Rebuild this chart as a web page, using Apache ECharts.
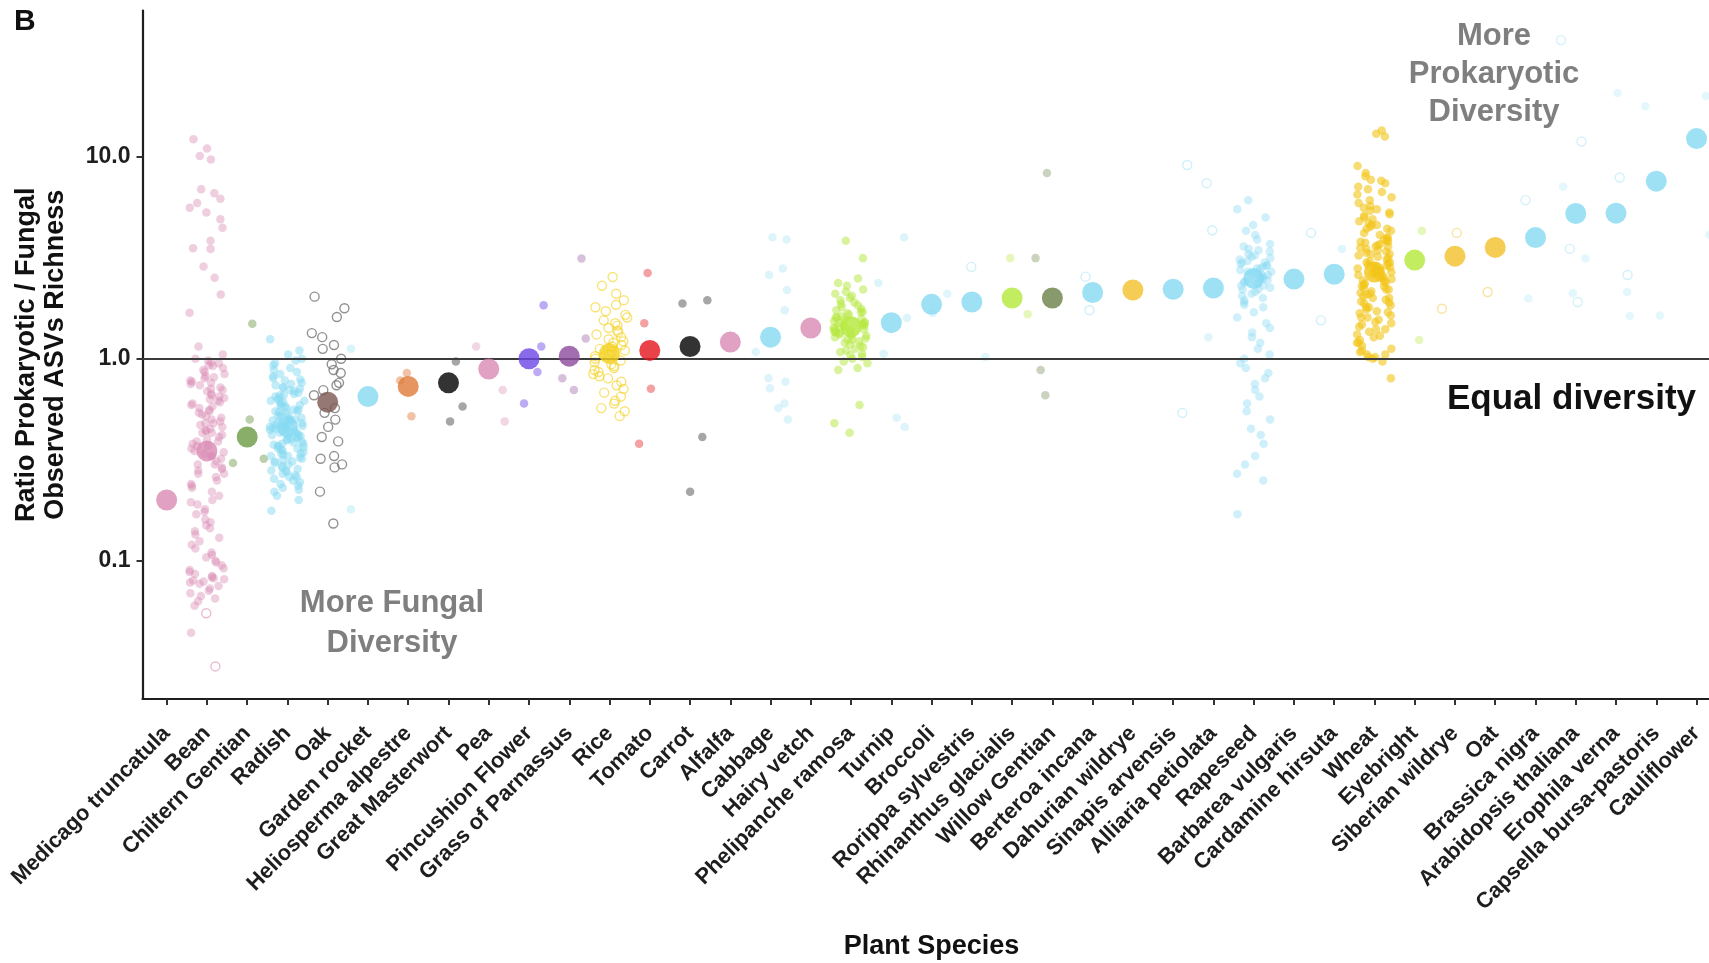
<!DOCTYPE html>
<html>
<head>
<meta charset="utf-8">
<script src="https://cdn.jsdelivr.net/npm/echarts@6/dist/echarts.min.js"></script>
<style>
  html, body { margin: 0; padding: 0; background: #ffffff; }
  #chart { width: 1709px; height: 963px; }
</style>
</head>
<body>
<div id="chart"></div>
<script>
// ---- Data -------------------------------------------------------------
const species = [
  'Medicago truncatula', 'Bean', 'Chiltern Gentian', 'Radish', 'Oak', 'Garden rocket',
  'Heliosperma alpestre', 'Great Masterwort', 'Pea', 'Pincushion Flower', 'Grass of Parnassus',
  'Rice', 'Tomato', 'Carrot', 'Alfalfa', 'Cabbage', 'Hairy vetch', 'Phelipanche ramosa',
  'Turnip', 'Broccoli', 'Rorippa sylvestris', 'Rhinanthus glacialis', 'Willow Gentian',
  'Berteroa incana', 'Dahurian wildrye', 'Sinapis arvensis', 'Alliaria petiolata', 'Rapeseed',
  'Barbarea vulgaris', 'Cardamine hirsuta', 'Wheat', 'Eyebright', 'Siberian wildrye', 'Oat',
  'Brassica nigra', 'Arabidopsis thaliana', 'Erophila verna', 'Capsella bursa-pastoris', 'Cauliflower'
];

// mean ratio per species (large markers)
const meanRatio = [
  0.20, 0.35, 0.41, 0.46, 0.61, 0.65, 0.73, 0.76, 0.89, 1.00, 1.03, 1.06, 1.10, 1.15,
  1.21, 1.28, 1.42, 1.44, 1.51, 1.86, 1.91, 2.00, 2.00, 2.13, 2.19, 2.21, 2.24, 2.50,
  2.48, 2.62, 2.69, 3.08, 3.22, 3.56, 3.98, 5.24, 5.26, 7.57, 12.3
];

// y axis ticks
const yTickValues = [0.1, 1, 10];
const yTickLabels = ['0.1', '1.0', '10.0'];

// individual samples (filled markers)
const beanFilled = [
  12.2, 11.0, 10.1, 9.7, 6.9, 6.6, 6.2, 5.9, 5.6, 5.3, 4.9, 4.45, 3.84, 3.53, 3.5, 2.86,
  2.52, 2.08, 1.69, 1.15, 1.05, 1.0, 0.98, 0.96, 0.93, 0.92,
  0.88, 0.86, 0.84, 0.82, 0.80, 0.78, 0.77, 0.75, 0.74, 0.72, 0.70, 0.69, 0.67, 0.66, 0.64,
  0.63, 0.61, 0.60, 0.58, 0.57, 0.56, 0.54, 0.53, 0.52, 0.50, 0.49, 0.48, 0.47, 0.46, 0.45,
  0.44, 0.43, 0.42, 0.41, 0.40, 0.39, 0.38, 0.37, 0.36, 0.35, 0.345, 0.34, 0.33, 0.32, 0.31,
  0.30, 0.29, 0.285, 0.28, 0.27, 0.26, 0.25, 0.24, 0.235, 0.23, 0.22, 0.21, 0.20, 0.195,
  0.19, 0.18, 0.175, 0.17, 0.16, 0.155, 0.15, 0.145, 0.14, 0.135, 0.13, 0.125, 0.12, 0.115,
  0.11, 0.107, 0.104, 0.10, 0.098, 0.095, 0.092, 0.09, 0.088, 0.086, 0.084, 0.082, 0.08,
  0.079, 0.077, 0.075, 0.073, 0.071, 0.069, 0.067, 0.065, 0.063, 0.06,
  0.62, 0.55, 0.51, 0.43, 0.39, 0.33, 0.27, 0.083, 0.081, 0.078, 0.044,
  0.95, 0.9, 0.81, 0.76, 0.71, 0.65, 0.59, 0.48, 0.44, 0.37, 0.3
];
const chilternFilled = [1.49, 0.50, 0.32, 0.305];
const radishFilled = [
  1.25, 1.10, 1.05, 1.00, 0.98, 0.95, 0.93, 0.90, 0.88, 0.86, 0.84, 0.82, 0.80, 0.79, 0.78,
  0.76, 0.75, 0.74, 0.72, 0.71, 0.70, 0.69, 0.68, 0.67, 0.66, 0.65, 0.64, 0.63, 0.62, 0.61,
  0.60, 0.59, 0.58, 0.57, 0.56, 0.55, 0.545, 0.54, 0.53, 0.52, 0.515, 0.51, 0.50, 0.495,
  0.49, 0.48, 0.475, 0.47, 0.465, 0.46, 0.455, 0.45, 0.445, 0.44, 0.43, 0.425, 0.42, 0.415,
  0.41, 0.405, 0.40, 0.395, 0.39, 0.385, 0.38, 0.375, 0.37, 0.365, 0.36, 0.355, 0.35, 0.345,
  0.34, 0.335, 0.33, 0.325, 0.32, 0.315, 0.31, 0.305, 0.30, 0.295, 0.29, 0.285, 0.28, 0.275,
  0.27, 0.265, 0.26, 0.255, 0.25, 0.245, 0.24, 0.235, 0.23, 0.225, 0.22, 0.21, 0.20, 0.177,
  0.62, 0.58, 0.55, 0.52, 0.50, 0.48, 0.46, 0.44, 0.42, 0.40, 0.38, 0.36, 0.34, 0.50, 0.45,
  0.72, 0.66, 0.6, 0.56, 0.47, 0.43, 0.41, 0.37, 0.33, 0.31, 0.28, 0.26
];
const gardenRocketFilled = [1.12, 0.18];
const heliospermaFilled = [0.85, 0.78, 0.52];
const masterwortFilled = [0.97, 0.58, 0.49];
const peaFilled = [1.15, 0.70, 0.49];
const pincushionFilled = [1.84, 1.15, 0.86, 0.60];
const parnassusFilled = [3.14, 1.26, 0.80, 0.70];
const tomatoFilled = [2.66, 1.50, 0.71, 0.38];
const carrotFilled = [1.95, 1.88, 0.41, 0.22];
const cabbageFilled = [4.0, 3.9, 2.8, 2.6, 2.19, 1.74, 1.08, 0.80, 0.77, 0.715, 0.60, 0.57, 0.50];
const phelipancheFilled = [
  3.84, 3.15, 2.5, 2.37, 2.3, 2.2, 2.15, 2.1, 2.05, 2.0, 1.95, 1.9, 1.87, 1.84, 1.8, 1.77,
  1.74, 1.71, 1.68, 1.65, 1.62, 1.6, 1.58, 1.56, 1.54, 1.52, 1.5, 1.48, 1.46, 1.44, 1.42,
  1.4, 1.38, 1.36, 1.34, 1.32, 1.3, 1.28, 1.26, 1.24, 1.22, 1.2, 1.18, 1.16, 1.14, 1.12,
  1.1, 1.08, 1.06, 1.04, 1.02, 1.0, 0.97, 0.95, 1.5, 1.45, 1.35, 1.25, 1.6, 1.7, 1.3, 1.4,
  0.90, 0.88, 0.59, 0.48, 0.43
];
const turnipFilled = [4.0, 2.37, 1.59, 1.06, 0.51, 0.46];
const broccoliFilled = [2.1, 1.68];
const rorippaFilled = [1.02];
const rhinanthusFilled = [3.15, 1.66];
const willowFilled = [8.3, 3.15, 0.88, 0.66];
const alliariaFilled = [1.28];
const rapeseedFilled = [
  6.1, 5.5, 5.0, 4.6, 4.3, 4.1, 3.9, 3.7,
  3.6, 3.5, 3.45, 3.4, 3.3, 3.25, 3.2, 3.15, 3.1, 3.05, 3.0, 2.95, 2.9, 2.85, 2.8, 2.75,
  2.7, 2.65, 2.6, 2.55, 2.5, 2.45, 2.4, 2.35, 2.3, 2.25, 2.2, 2.15, 2.1, 2.05, 2.0, 1.95,
  1.9, 1.85, 1.8, 2.9, 2.7, 2.5, 2.3, 2.6, 2.4, 3.0, 2.8, 2.2,
  1.7, 1.6, 1.5, 1.42, 1.35, 1.28, 1.2, 1.12, 1.05, 1.0,
  0.95, 0.90, 0.85, 0.80, 0.75, 0.70, 0.65, 0.60, 0.55, 0.50, 0.45, 0.42, 0.38, 0.33,
  0.30, 0.27, 0.25, 0.17
];
const cardamineFilled = [3.5];
const wheatFilled = [
  13.5, 13.0, 12.6, 9.0, 7.6,
  8.3, 8.0, 7.7, 7.4, 7.1, 6.9, 6.7, 6.5, 6.3, 6.1, 5.9, 5.7, 5.5, 5.4, 5.2, 5.1, 5.0, 4.9,
  4.8, 4.7, 4.6, 4.5, 4.4, 4.3, 4.2, 4.1, 4.0, 3.95, 3.9, 3.85, 3.8, 3.75, 3.7, 3.65, 3.6,
  3.55, 3.5, 3.45, 3.4, 3.35, 3.3, 3.25, 3.2, 3.15, 3.1, 3.05, 3.0, 2.96, 2.92, 2.88, 2.84,
  2.8, 2.76, 2.72, 2.68, 2.64, 2.6, 2.56, 2.52, 2.48, 2.44, 2.4, 2.36, 2.32, 2.28, 2.24,
  2.2, 2.16, 2.12, 2.08, 2.04, 2.0, 1.96, 1.92, 1.88, 1.84, 1.8, 1.76, 1.72, 1.68, 1.64,
  1.6, 1.56, 1.52, 1.48, 1.44, 1.4, 1.36, 1.32, 1.28, 1.24, 1.2, 1.16, 1.12, 1.08, 1.05,
  1.02, 1.0, 0.97, 0.80,
  5.6, 5.3, 4.4, 3.8, 3.3, 3.0, 2.8, 2.6, 2.5, 2.3, 2.2, 2.0, 1.9, 1.7, 1.5, 1.3, 1.1,
  1.05, 1.02, 4.6, 3.6, 2.9, 2.7, 2.4, 2.1, 1.8, 1.6, 1.4, 1.2
];
const eyebrightFilled = [4.3, 1.24];
const brassicaFilled = [1.99];
const arabidopsisFilled = [7.1, 3.14, 2.11];
const erophilaFilled = [20.7, 2.14, 1.63];
const capsellaFilled = [17.8, 1.64];
const cauliflowerFilled = [20.0, 4.1];

// individual samples (open markers)
const beanOpen = [0.055, 0.030];
const oakOpen = [
  2.03, 1.78, 1.61, 1.34, 1.28, 1.17, 1.12, 1.0, 0.94, 0.88, 0.85, 0.76, 0.74, 0.70,
  0.66, 0.57, 0.54, 0.50, 0.46, 0.41, 0.39, 0.33, 0.32, 0.30, 0.29, 0.22, 0.153
];
const riceOpen = [
  2.54, 2.3, 2.1, 1.95, 1.85, 1.8, 1.72, 1.65, 1.6, 1.55, 1.5, 1.46, 1.42, 1.38, 1.35,
  1.32, 1.28, 1.25, 1.22, 1.2, 1.17, 1.15, 1.12, 1.1, 1.08, 1.05, 1.03, 1.0, 0.98, 0.96,
  0.94, 0.92, 0.9, 0.88, 0.86, 0.84, 0.82, 0.8, 0.77, 0.74, 0.71, 0.68, 0.65, 0.62, 0.6,
  0.57, 0.55, 0.52
];
const rorippaOpen = [2.85];
const berteroaOpen = [2.55, 1.74];
const sinapisOpen = [9.1, 0.54];
const alliariaOpen = [7.4, 4.33];
const barbareaOpen = [4.2];
const cardamineOpen = [1.55];
const siberianOpen = [4.2, 1.77];
const oatOpen = [2.14];
const brassicaOpen = [6.1];
const arabidopsisOpen = [37.8, 11.9, 3.5, 1.91];
const erophilaOpen = [7.9, 2.6];

// species index -> sample arrays
const filledBySpecies = [
  [], beanFilled, chilternFilled, radishFilled, [], gardenRocketFilled, heliospermaFilled,
  masterwortFilled, peaFilled, pincushionFilled, parnassusFilled, [], tomatoFilled,
  carrotFilled, [], cabbageFilled, [], phelipancheFilled, turnipFilled, broccoliFilled,
  rorippaFilled, rhinanthusFilled, willowFilled, [], [], [], alliariaFilled, rapeseedFilled,
  [], cardamineFilled, wheatFilled, eyebrightFilled, [], [], brassicaFilled,
  arabidopsisFilled, erophilaFilled, capsellaFilled, cauliflowerFilled
];
const openBySpecies = [
  [], beanOpen, [], [], oakOpen, [], [], [], [], [], [], riceOpen, [], [], [], [], [], [],
  [], [], rorippaOpen, [], [], berteroaOpen, [], sinapisOpen, alliariaOpen, [],
  barbareaOpen, cardamineOpen, [], [], siberianOpen, oatOpen, brassicaOpen,
  arabidopsisOpen, erophilaOpen, [], []
];

// ---- Styling ----------------------------------------------------------
const PINK = '#d98ab3', CYAN = '#86d9f2', LIME = '#b4e83a', GOLD = '#f2c12b';
const speciesColor = [
  PINK, PINK, '#6b9a45', CYAN, '#7a5650', CYAN, '#e07a3a', '#000000', PINK, '#6a45e6',
  '#8c4a9b', '#f4d11e', '#e3131b', '#000000', PINK, CYAN, PINK, LIME, CYAN, CYAN, CYAN,
  LIME, '#6a8046', CYAN, GOLD, CYAN, CYAN, CYAN, CYAN, CYAN, '#f2c418', LIME, GOLD, GOLD,
  CYAN, CYAN, CYAN, CYAN, CYAN
];
const sampleColorOverride = { 4: '#6e6e6e' };
const sampleOpacity = [
  0.5, 0.42, 0.45, 0.5, 0.6, 0.3, 0.45, 0.35, 0.35, 0.45, 0.35, 0.45, 0.4, 0.35, 0.3,
  0.28, 0.3, 0.5, 0.28, 0.25, 0.25, 0.35, 0.35, 0.25, 0.3, 0.25, 0.25, 0.4, 0.25, 0.25,
  0.6, 0.35, 0.3, 0.3, 0.22, 0.22, 0.22, 0.22, 0.22
];
const FONT = 'Arial, "Liberation Sans", Helvetica';

// deterministic horizontal spread of samples within a species column
function spread(i, j) {
  const s = Math.sin(i * 127.1 + j * 311.7 + 0.5) * 43758.5453;
  const f = s - Math.floor(s);
  return (f - 0.5) * 0.88;
}

const filledPoints = [];
const openPoints = [];
filledBySpecies.forEach((vals, i) => {
  const c = sampleColorOverride[i] || speciesColor[i];
  vals.forEach((v, j) => filledPoints.push({
    value: [i + spread(i, j), v],
    itemStyle: { color: c, opacity: sampleOpacity[i] }
  }));
});
openBySpecies.forEach((vals, i) => {
  const c = sampleColorOverride[i] || speciesColor[i];
  vals.forEach((v, j) => openPoints.push({
    value: [i + spread(i, j + 101), v],
    itemStyle: { color: 'rgba(0,0,0,0)', borderColor: c, borderWidth: 1.4, opacity: Math.min(1, sampleOpacity[i] + 0.15) }
  }));
});
const meanPoints = meanRatio.map((v, i) => ({
  value: [i, v],
  itemStyle: { color: speciesColor[i] }
}));

const categoryIdx = species.map((_, i) => i);

const chart = echarts.init(document.getElementById('chart'), null, { renderer: 'canvas' });
chart.setOption({
  backgroundColor: '#ffffff',
  animation: false,
  textStyle: { fontFamily: FONT },
  grid: { left: 142.5, top: 10.5, right: -11.7, bottom: 264, containLabel: false, outerBoundsMode: 'none' },
  xAxis: {
    type: 'value', min: -0.6, max: 38.6,
    axisLine: { show: true, onZero: false, lineStyle: { color: '#1e1e1e', width: 2.2 } },
    axisTick: { show: true, length: 6, customValues: categoryIdx, lineStyle: { color: '#333', width: 2 } },
    axisLabel: {
      customValues: categoryIdx, rotate: 45, margin: 31,
      formatter: v => species[Math.round(v)] || '',
      fontFamily: FONT, fontSize: 22, fontWeight: 'bold', color: '#1e1e1e'
    },
    splitLine: { show: false },
    name: 'Plant Species', nameLocation: 'middle', nameGap: 234,
    nameTextStyle: { fontFamily: FONT, fontSize: 27, fontWeight: 'bold', color: '#111' }
  },
  yAxis: {
    type: 'log', logBase: 10, min: 0.0207, max: 52.97,
    axisLine: { show: true, onZero: false, lineStyle: { color: '#1e1e1e', width: 2.2 } },
    axisTick: { show: true, length: 6, customValues: yTickValues, lineStyle: { color: '#333', width: 2 } },
    axisLabel: {
      customValues: yTickValues, margin: 12,
      formatter: v => {
        const k = yTickValues.findIndex(t => Math.abs(t - v) / t < 1e-6);
        return k >= 0 ? yTickLabels[k] : '';
      },
      fontFamily: FONT, fontSize: 23, fontWeight: 'bold', color: '#1e1e1e'
    },
    splitLine: { show: false },
    name: 'Ratio Prokaryotic / Fungal\nObserved ASVs Richness',
    nameLocation: 'middle', nameGap: 72, nameRotate: 90,
    nameTextStyle: { fontFamily: FONT, fontSize: 27, fontWeight: 'bold', color: '#111', lineHeight: 29, align: 'center' }
  },
  series: [
    {
      type: 'scatter', name: 'samples', symbol: 'circle', symbolSize: 8.5,
      data: filledPoints, z: 2, silent: true
    },
    {
      type: 'scatter', name: 'samples-open', symbol: 'circle', symbolSize: 9,
      data: openPoints, z: 3, silent: true,
      markLine: {
        silent: true, symbol: 'none', label: { show: false },
        lineStyle: { color: '#3c3c3c', width: 2.2, type: 'solid' },
        data: [{ yAxis: 1 }]
      }
    },
    {
      type: 'scatter', name: 'mean', symbol: 'circle', symbolSize: 21,
      data: meanPoints, z: 5, silent: true
    }
  ],
  graphic: [
    { type: 'text', x: 14, y: 22, style: { text: 'B', font: 'bold 30px Arial, "Liberation Sans"', fill: '#111', verticalAlign: 'middle' } },
    { type: 'text', x: 392, y: 623, style: { text: 'More Fungal\nDiversity', font: 'bold 31px Arial, "Liberation Sans"', lineHeight: 40, fill: '#7f7f7f', align: 'center', verticalAlign: 'middle' } },
    { type: 'text', x: 1494, y: 74, style: { text: 'More\nProkaryotic\nDiversity', font: 'bold 31px Arial, "Liberation Sans"', lineHeight: 38, fill: '#7f7f7f', align: 'center', verticalAlign: 'middle' } },
    { type: 'text', x: 1696, y: 399, style: { text: 'Equal diversity', font: 'bold 35px Arial, "Liberation Sans"', fill: '#111', align: 'right', verticalAlign: 'middle' } }
  ]
});
</script>
</body>
</html>
